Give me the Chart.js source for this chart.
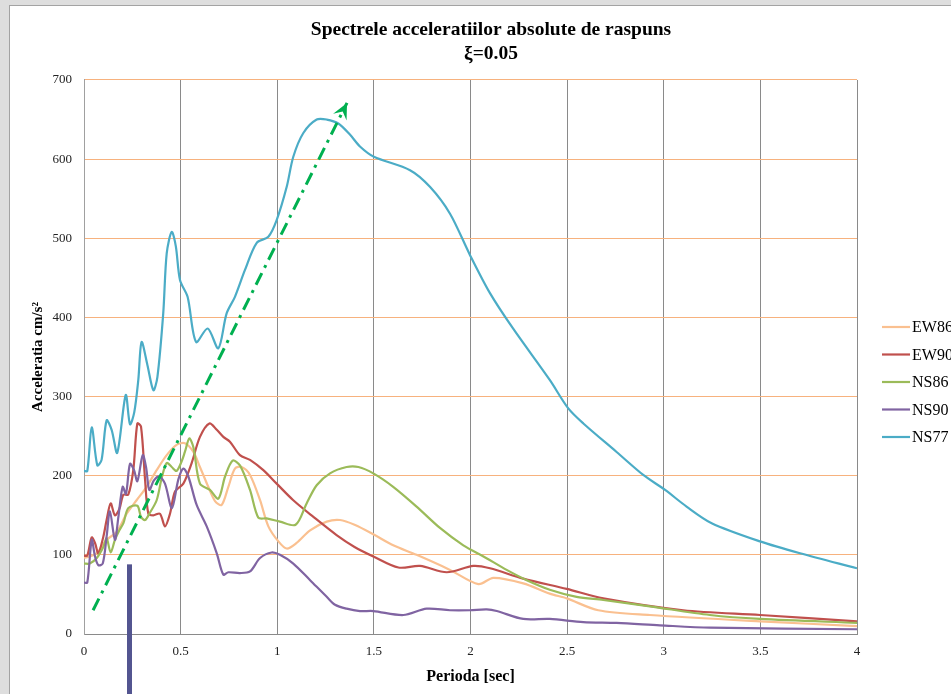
<!DOCTYPE html>
<html><head><meta charset="utf-8">
<script src="https://cdn.jsdelivr.net/npm/chart.js@4/dist/chart.umd.min.js"></script>
<style>
html,body{margin:0;padding:0;background:#dedede;overflow:hidden;width:951px;height:694px;}
#panel{position:absolute;left:9px;top:5px;border-left:1px solid #a3a3a3;border-top:1px solid #a3a3a3;background:#fff;width:962px;height:688px;}
canvas{display:block;}
</style></head><body>
<div id="panel"><canvas id="c" width="962" height="688"></canvas></div>
<script>
const seriesNames = ['EW86','EW90','NS86','NS90','NS77'];
const seriesColors = ['#FAC090','#C0504D','#9BBB59','#8064A2','#4BACC6'];

const ew86T = [0,0.03,0.066,0.117,0.169,0.221,0.272,0.324,0.376,0.428,0.479,0.522,0.566,0.6,0.643,0.678,0.712,0.747,0.781,0.816,0.859,0.911,0.954,1.006,1.049,1.1,1.17,1.256,1.325,1.4,1.497,1.6,1.721,1.894,2.041,2.118,2.273,2.41,2.498,2.661,2.928,3.498,4];
const ew86A = [96,98,102,119,129,152,169,186,207,226,239,241,230,211,186,168,163,186,209,211,201,169,136,117,108,115,131,142,144,138,126,112,100,81,63,71,64,51,45,30,24,16,10];

const ew90T = [0,0.017,0.04,0.057,0.074,0.1,0.117,0.138,0.16,0.183,0.204,0.229,0.255,0.276,0.295,0.316,0.333,0.359,0.393,0.419,0.445,0.471,0.514,0.557,0.6,0.649,0.687,0.721,0.755,0.807,0.859,0.928,0.997,1.083,1.187,1.307,1.4,1.497,1.627,1.739,1.877,2.015,2.101,2.273,2.498,2.687,3.101,3.498,4];
const ew90A = [99,99,122,115,102,123,144,165,150,158,176,176,207,266,262,195,152,150,152,136,152,180,190,216,249,266,258,249,243,226,220,207,190,169,148,125,110,98,84,86,78,86,83,70,57,45,30,24,16];

const ns86T = [0,0.03,0.066,0.1,0.117,0.138,0.16,0.183,0.204,0.229,0.276,0.295,0.316,0.338,0.376,0.402,0.428,0.454,0.479,0.505,0.522,0.545,0.566,0.6,0.652,0.695,0.73,0.769,0.807,0.859,0.902,0.945,1.014,1.095,1.152,1.204,1.273,1.359,1.42,1.497,1.6,1.721,1.842,1.963,2.067,2.187,2.291,2.41,2.549,2.687,2.928,3.239,3.498,4];
const ns86A = [89,89,96,110,121,103,119,131,140,159,162,148,144,152,169,197,216,211,206,218,230,247,236,190,182,171,199,219,213,182,147,146,142,138,165,188,203,211,211,203,186,161,134,112,98,81,68,56,47,43,35,24,19,14];

const ns90T = [0,0.017,0.04,0.057,0.074,0.097,0.117,0.134,0.16,0.178,0.2,0.217,0.238,0.259,0.276,0.304,0.321,0.338,0.362,0.39,0.419,0.455,0.488,0.514,0.54,0.583,0.635,0.687,0.721,0.747,0.807,0.859,0.911,0.971,1.014,1.083,1.17,1.256,1.299,1.359,1.428,1.497,1.652,1.773,1.894,1.997,2.084,2.136,2.273,2.41,2.584,2.756,2.98,3.239,4];
const ns90A = [65,65,119,98,87,89,123,155,119,148,186,177,215,207,193,226,211,182,194,199,190,159,195,209,199,163,136,102,75,78,77,79,96,103,100,89,68,47,37,32,29,29,24,32,30,30,31,29,19,19,15,14,11,8,6];

const ns77T = [0,0.017,0.04,0.069,0.091,0.117,0.143,0.172,0.216,0.238,0.26,0.281,0.298,0.328,0.359,0.38,0.41,0.428,0.454,0.475,0.497,0.536,0.58,0.64,0.695,0.738,0.781,0.833,0.893,0.954,0.997,1.049,1.083,1.135,1.204,1.256,1.316,1.376,1.428,1.5,1.687,1.79,1.894,1.997,2.1,2.22,2.41,2.506,2.584,2.756,2.894,3.007,3.118,3.248,3.498,3.705,4];
const ns77A = [206,206,261,213,220,270,258,229,302,265,280,321,369,340,308,325,405,481,508,490,447,426,369,386,361,405,426,460,494,502,523,565,603,633,650,650,645,631,616,603,586,565,531,479,431,386,321,285,266,230,201,182,161,140,117,102,83];

const arrowT = [0.047, 1.361];
const arrowA = [30, 671];
const markerT = [0.235];
const markerA = [88];

const xTicks = [0,0.5,1,1.5,2,2.5,3,3.5,4];
const yTicks = [0,100,200,300,400,500,600,700];

const allT = [ew86T, ew90T, ns86T, ns90T, ns77T];
const allA = [ew86A, ew90A, ns86A, ns90A, ns77A];
const pts = (t, a) => t.map((v, i) => ({x: v, y: a[i]}));

Chart.defaults.font.family = "'Liberation Serif','Times New Roman',serif";
Chart.defaults.color = '#1a1a1a';

const datasets = seriesNames.map((n, i) => ({
  label: n, data: pts(allT[i], allA[i]), borderColor: seriesColors[i], backgroundColor: seriesColors[i],
  borderWidth: 2.2, pointRadius: 0, tension: 0.3, fill: false, order: 5 - i
}));
datasets.push({
  label: 'arrow', data: pts(arrowT, arrowA), borderColor: '#00B050', borderWidth: 3,
  borderDash: [13, 6, 3, 6], pointRadius: 0, tension: 0, fill: false, order: 0
});

const extras = {
  id: 'extras',
  afterDatasetsDraw(chart) {
    const ctx = chart.ctx, xs = chart.scales.x, ys = chart.scales.y;
    const x0 = xs.getPixelForValue(arrowT[0]), y0 = ys.getPixelForValue(arrowA[0]);
    const x1 = xs.getPixelForValue(arrowT[1]), y1 = ys.getPixelForValue(arrowA[1]);
    const ang = Math.atan2(y1 - y0, x1 - x0);
    const L = 16, W = 7.5;
    ctx.save();
    ctx.fillStyle = '#00B050';
    ctx.beginPath();
    ctx.moveTo(x1, y1);
    ctx.lineTo(x1 - L * Math.cos(ang) + W * Math.sin(ang), y1 - L * Math.sin(ang) - W * Math.cos(ang));
    ctx.lineTo(x1 - 0.6 * L * Math.cos(ang), y1 - 0.6 * L * Math.sin(ang));
    ctx.lineTo(x1 - L * Math.cos(ang) - W * Math.sin(ang), y1 - L * Math.sin(ang) + W * Math.cos(ang));
    ctx.closePath();
    ctx.fill();
    ctx.restore();
  },
  afterDraw(chart) {
    const ctx = chart.ctx, xs = chart.scales.x, ys = chart.scales.y;
    ctx.save();
    ctx.fillStyle = '#535590';
    const mx = xs.getPixelForValue(markerT[0]);
    const my = ys.getPixelForValue(markerA[0]);
    ctx.fillRect(Math.round(mx - 2.5), my, 5, chart.height - my);
    const lx = chart.chartArea.right + 25;
    const ly0 = 321, dy = 27.5;
    ctx.font = "16px 'Liberation Serif','Times New Roman',serif";
    ctx.textBaseline = 'middle';
    seriesNames.forEach((n, i) => {
      const y = ly0 + i * dy;
      ctx.strokeStyle = seriesColors[i];
      ctx.lineWidth = 2.2;
      ctx.beginPath(); ctx.moveTo(lx, y); ctx.lineTo(lx + 28, y); ctx.stroke();
      ctx.fillStyle = '#000';
      ctx.fillText(n, lx + 30, y + 1);
    });
    ctx.restore();
  }
};

new Chart(document.getElementById('c'), {
  type: 'line',
  data: { datasets },
  options: {
    responsive: false, animation: false, devicePixelRatio: 1,
    layout: { padding: { left: 0, right: 0, top: 0, bottom: 0 } },
    plugins: {
      legend: { display: false }, tooltip: { enabled: false },
      title: {
        display: true, text: ['Spectrele acceleratiilor absolute de raspuns', 'ξ=0.05'],
        color: '#000', font: { size: 19.5, weight: 'bold', lineHeight: 1.23 },
        padding: { top: 12, bottom: 14 }
      }
    },
    scales: {
      x: {
        type: 'linear', min: 0, max: 4,
        afterBuildTicks(s) { s.ticks = xTicks.map(v => ({value: v})); },
        afterFit(s) { s.height = 60; },
        ticks: { padding: 10, font: { size: 13 }, color: '#222', maxRotation: 0, callback: v => String(v) },
        grid: { color: '#8a8a8a', lineWidth: 1, drawTicks: false },
        border: { color: '#8a8a8a' },
        title: { display: true, text: 'Perioda [sec]', color: '#000', font: { size: 16, weight: 'bold' }, padding: { top: 0, bottom: 8 } }
      },
      y: {
        min: 0, max: 700,
        afterBuildTicks(s) { s.ticks = yTicks.map(v => ({value: v})); },
        afterFit(s) { s.width = 74; },
        ticks: { padding: 12, font: { size: 13 }, color: '#222' },
        grid: { color: '#F7B27E', lineWidth: 1, drawTicks: false },
        border: { color: '#a0a0a0' },
        title: { display: true, text: 'Acceleratia cm/s²', color: '#000', font: { size: 15, weight: 'bold' }, padding: { top: 19, bottom: 0 } }
      },
      legendSpace: {
        type: 'linear', position: 'right', display: true,
        grid: { display: false, drawTicks: false }, border: { display: false },
        ticks: { display: false },
        afterFit(s) { s.width = 115; }
      }
    }
  },
  plugins: [extras]
});
</script>
</body></html>
